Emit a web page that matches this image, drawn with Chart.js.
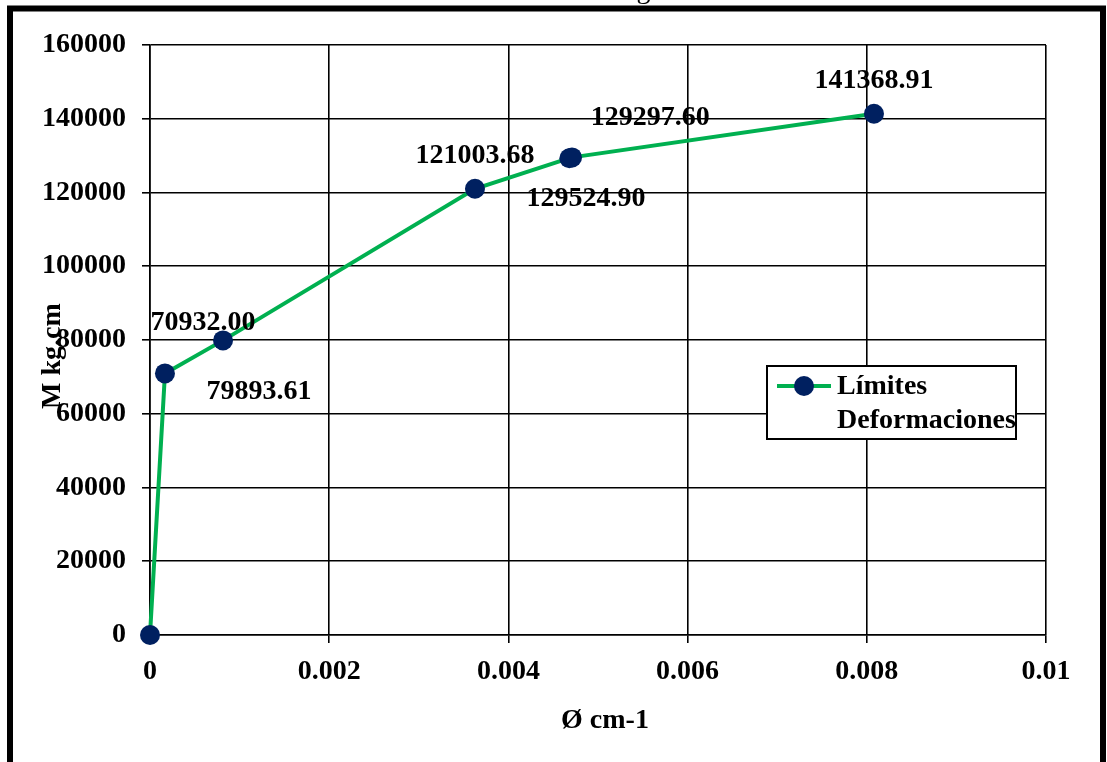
<!DOCTYPE html>
<html>
<head>
<meta charset="utf-8">
<script src="https://cdn.jsdelivr.net/npm/chart.js@4/dist/chart.umd.min.js"></script>
<style>
  html, body { margin: 0; padding: 0; background: #fff; overflow: hidden; }
  canvas { display: block; }
</style>
</head>
<body>
<canvas id="chart" width="1107" height="762"></canvas>
<script>
// Moment–curvature data
const curvature = [0, 0.000167, 0.000815, 0.003627, 0.00468, 0.00471, 0.00808];
const moment = [0, 70932.00, 79893.61, 121003.68, 129297.60, 129524.90, 141368.91];
const xTickLabels = ['0', '0.002', '0.004', '0.006', '0.008', '0.01'];
const yTickLabels = ['0', '20000', '40000', '60000', '80000', '100000', '120000', '140000', '160000'];
const seriesName = ['Límites', 'Deformaciones'];
const chartTitle = 'Diagrama Momento Curvatura';
const xTitle = 'Ø cm-1';
const yTitle = 'M kg.cm';

// pixel offsets for each value label, relative to its point (null = no label)
const labelOffsets = [null, [38, -51], [36, 51], [0, -33], [81, -40], [14, 41], [0, -33]];

const FONT = '"Liberation Serif", "Times New Roman", serif';
const LINE_GREEN = '#00B050';
const DOT_NAVY = '#002060';

const points = curvature.map((x, i) => ({ x, y: moment[i] }));

const decorations = {
  id: 'decorations',
  afterDraw(chart) {
    const ctx = chart.ctx;
    ctx.save();

    // title (mostly above the visible canvas)
    ctx.fillStyle = '#000';
    ctx.font = '28px ' + FONT;
    ctx.textAlign = 'left';
    ctx.textBaseline = 'alphabetic';
    ctx.fillText(chartTitle, 596, -2);

    // outer frame
    ctx.strokeStyle = '#000';
    ctx.lineWidth = 6;
    ctx.strokeRect(10, 8.5, 1093, 780);

    // axis titles
    ctx.font = 'bold 28px ' + FONT;
    ctx.textAlign = 'center';
    ctx.textBaseline = 'middle';
    ctx.fillText(xTitle, 605, 721);
    ctx.save();
    ctx.translate(53, 356);
    ctx.rotate(-Math.PI / 2);
    ctx.fillText(yTitle, 0, 0);
    ctx.restore();

    // value labels
    const meta = chart.getDatasetMeta(0);
    meta.data.forEach((pt, i) => {
      const off = labelOffsets[i];
      if (!off) return;
      ctx.fillText(moment[i].toFixed(2), pt.x + off[0], pt.y + off[1]);
    });

    // legend
    const lx = 767, ly = 366, lw = 249, lh = 73;
    ctx.fillStyle = '#fff';
    ctx.fillRect(lx, ly, lw, lh);
    ctx.strokeStyle = '#000';
    ctx.lineWidth = 2;
    ctx.strokeRect(lx, ly, lw, lh);
    ctx.strokeStyle = LINE_GREEN;
    ctx.lineWidth = 4;
    ctx.beginPath();
    ctx.moveTo(777, 386);
    ctx.lineTo(831, 386);
    ctx.stroke();
    ctx.fillStyle = DOT_NAVY;
    ctx.beginPath();
    ctx.arc(804, 386, 10, 0, Math.PI * 2);
    ctx.fill();
    ctx.fillStyle = '#000';
    ctx.textAlign = 'left';
    ctx.fillText(seriesName[0], 837, 387);
    ctx.fillText(seriesName[1], 837, 421);

    ctx.restore();
  }
};

new Chart(document.getElementById('chart'), {
  type: 'line',
  data: {
    datasets: [{
      label: seriesName.join(' '),
      data: points,
      borderColor: LINE_GREEN,
      borderWidth: 4,
      pointBackgroundColor: DOT_NAVY,
      pointBorderColor: DOT_NAVY,
      pointBorderWidth: 0,
      pointRadius: 10,
      tension: 0,
      clip: false
    }]
  },
  options: {
    responsive: false,
    animation: false,
    devicePixelRatio: 1,
    layout: { padding: { left: 14, right: 61, top: 45, bottom: 0 } },
    plugins: {
      legend: { display: false },
      title: { display: false },
      tooltip: { enabled: false }
    },
    scales: {
      x: {
        type: 'linear',
        min: 0,
        max: 0.01,
        afterBuildTicks(scale) {
          scale.ticks = xTickLabels.map(s => ({ value: parseFloat(s) }));
        },
        afterFit(scale) { scale.height = 127; },
        ticks: {
          callback: (v, i) => xTickLabels[i],
          color: '#000',
          font: { family: FONT, size: 28, weight: 'bold' },
          padding: 12,
          maxRotation: 0,
          autoSkip: false
        },
        grid: { color: '#000', lineWidth: 1.6, tickLength: 8, drawTicks: true },
        border: { display: true, color: '#000', width: 1.6 }
      },
      y: {
        type: 'linear',
        min: 0,
        max: 160000,
        afterBuildTicks(scale) {
          scale.ticks = yTickLabels.map(s => ({ value: parseFloat(s) }));
        },
        afterFit(scale) { scale.width = 136; },
        ticks: {
          callback: (v, i) => yTickLabels[i],
          color: '#000',
          font: { family: FONT, size: 28, weight: 'bold' },
          padding: 16,
          autoSkip: false
        },
        grid: { color: '#000', lineWidth: 1.6, tickLength: 8, drawTicks: true },
        border: { display: true, color: '#000', width: 1.6 }
      }
    }
  },
  plugins: [decorations]
});
</script>
</body>
</html>
